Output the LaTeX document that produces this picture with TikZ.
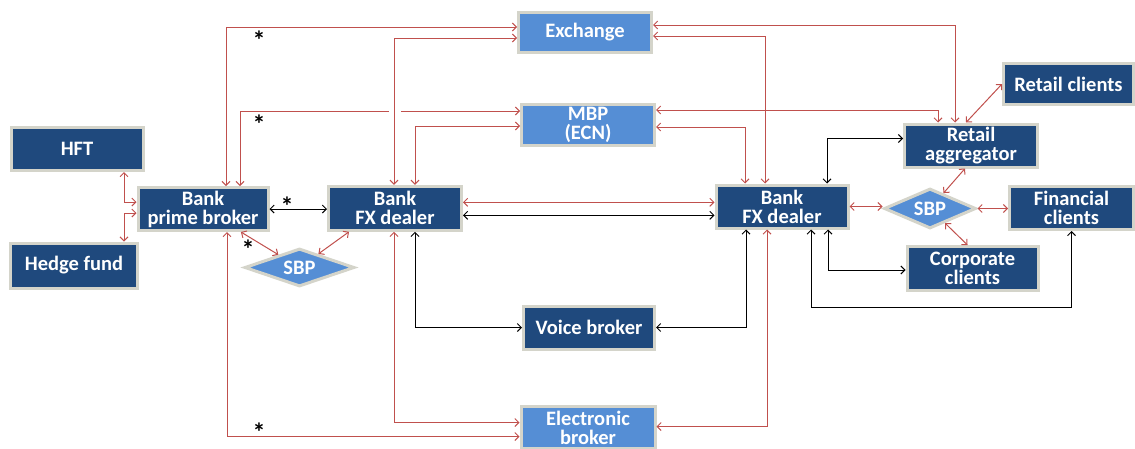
\documentclass[tikz,border=0pt]{standalone}
\usepackage{fontspec}
\setmainfont{Carlito}
\usetikzlibrary{shapes.geometric,arrows.meta}
\definecolor{boxblue}{RGB}{31,73,125}
\definecolor{mktblue}{RGB}{85,142,213}
\definecolor{linkred}{RGB}{192,80,77}
\definecolor{rimgray}{RGB}{212,212,202}
\tikzset{
  dealer/.style={draw=rimgray, line width=3pt, fill=boxblue, text=white,
    align=center, inner sep=0pt, font=\fontsize{20.5}{19}\selectfont\bfseries},
  venue/.style={dealer, fill=mktblue},
  sbp/.style={venue, diamond, aspect=2.5},
  rl/.style={draw=linkred, line width=1pt, <->},
  bl/.style={draw=black, line width=1pt, <->},
  star/.style={inner sep=0pt, font=\fontsize{26}{26}\selectfont\bfseries}
}

\begin{document}
\begin{tikzpicture}[x=1pt, y=-1pt, >={Straight Barb[length=4pt,width=8pt]}]

  \useasboundingbox (0,0) rectangle (1135,448);

  % participants
  \node[dealer, minimum width=132pt, minimum height=43pt] (hft) at (77,149) {HFT};
  \node[dealer, minimum width=127pt, minimum height=45pt] (hf) at (74,265.5) {Hedge fund};
  \node[dealer, minimum width=130pt, minimum height=43pt] (pb) at (203,209) {Bank\\prime broker};
  \node[dealer, minimum width=133pt, minimum height=44pt] (fxl) at (395,208.3) {Bank\\FX dealer};
  \node[dealer, minimum width=132pt, minimum height=43pt] (fxr) at (782,206.5) {Bank\\FX dealer};
  \node[dealer, minimum width=131pt, minimum height=43pt] (vb) at (589,327.5) {Voice broker};
  \node[dealer, minimum width=133pt, minimum height=43pt] (rag) at (971,145.5) {Retail\\aggregator};
  \node[dealer, minimum width=130pt, minimum height=41pt] (rcl) at (1068.5,84) {Retail clients};
  \node[dealer, minimum width=124pt, minimum height=43pt] (fcl) at (1071.5,208) {Financial\\clients};
  \node[dealer, minimum width=131pt, minimum height=44pt] (ccl) at (972.5,268.5) {Corporate\\clients};

  % venues
  \node[venue, minimum width=133pt, minimum height=40pt] (ex) at (585,32) {Exchange};
  \node[venue, minimum width=133pt, minimum height=41pt] (mbp) at (588,125) {MBP\\(ECN)};
  \node[venue, minimum width=134pt, minimum height=42pt] (eb) at (588,427.5) {Electronic\\broker};
  \node[sbp, minimum width=110pt, minimum height=38pt] (sbpl) at (299.5,267.5) {SBP};
  \node[sbp, minimum width=92pt, minimum height=40pt] (sbpr) at (930,208.5) {SBP};

  % red links, left side
  \draw[rl] ([xshift=47pt]hft.south) |- ([yshift=7pt]pb.west); %% HFT<->PB
  \draw[rl] ([xshift=50pt]hf.north) |- ([yshift=-4pt]pb.west); %% HF<->PB
  \draw[rl] ([xshift=23pt]pb.north) |- ([yshift=5pt]ex.west); %% PB<->EX
  \coordinate (gapL) at (389,111);
  \coordinate (gapR) at (401,111);
  \draw[draw=linkred, line width=1pt, <-] ([xshift=37pt]pb.north) |- (gapL); %% PB<-
  \draw[draw=linkred, line width=1pt, ->] (gapR) -- ([yshift=14pt]mbp.west); %% ->MBP
  \draw[rl] ([xshift=-1pt]fxl.north) |- ([yshift=-6pt]ex.west); %% FXL<->EX
  \draw[rl] ([xshift=20pt]fxl.north) |- ([yshift=-1pt]mbp.west); %% FXL<->MBP
  \draw[rl] (pb) -- (sbpl); %% PB<->SBP
  \draw[rl] ([xshift=-46pt]fxl.south) -- (sbpl); %% FXL<->SBP
  \draw[rl] ([xshift=24pt]pb.south) |- ([yshift=-9pt]eb.west); %% PB<->EB
  \draw[rl] ([xshift=-1pt]fxl.south) |- ([yshift=5pt]eb.west); %% FXL<->EB

  % dealer to dealer
  \draw[rl] ([yshift=6pt]fxl.east) -- ([yshift=6pt]fxl.east -| fxr.west); %% FXL<->FXR
  \draw[bl] ([yshift=-7pt]fxl.east) -- ([yshift=-7pt]fxl.east -| fxr.west);
  \draw[bl] (pb.east) -- (pb.east -| fxl.west); %% PB<->FXL

  % red links, right side
  \draw[rl] ([yshift=7pt]ex.east) -| ([xshift=-16pt]rag.north); %% EX<->RAG
  \draw[rl] ([yshift=-4pt]ex.east) -| ([xshift=-17pt]fxr.north); %% EX<->FXR
  \draw[rl] ([yshift=15pt]mbp.east) -| ([xshift=-33pt]rag.north); %% MBP<->RAG
  \draw[rl] ([yshift=-2pt]mbp.east) -| ([xshift=-37pt]fxr.north); %% MBP<->FXR
  \draw[rl] ([xshift=-15pt]fxr.south) |- ([yshift=1pt]eb.east); %% FXR<->EB
  \draw[rl] (fxr.east) -- (fxr.east -| sbpr.west); %% FXR<->SBP
  \draw[rl] (sbpr.east) -- (sbpr.east -| fcl.west); %% SBP<->FCL
  \draw[rl] ([xshift=-6pt]rag.south) -- (sbpr); %% RAG<->SBP
  \draw[rl] (sbpr) -- ([xshift=-5pt]ccl.north); %% SBP<->CCL
  \draw[rl] ([xshift=-5pt]rag.north) -- (rcl.west); %% RAG<->RCL

  % black links
  \draw[bl] ([xshift=20pt]fxl.south) |- (vb.west); %% FXL<->VB
  \draw[bl] ([xshift=-36pt]fxr.south) |- (vb.east); %% FXR<->VB
  \draw[bl] ([xshift=45pt]fxr.north) |- ([yshift=7pt]rag.west); %% FXR<->RAG
  \draw[bl] ([xshift=46pt]fxr.south) |- ([yshift=-1.5pt]ccl.west); %% FXR<->CCL
  \draw[bl] ([xshift=29pt]fxr.south) -- ++(0,78) -| (fcl.south); %% FXR<->FCL

  % stars
  \node[star] (st1) at (259,40) {*};
  \node[star] (st2) at (259,124) {*};
  \node[star] (st3) at (287,206) {*};
  \node[star] (st4) at (248,249) {*};
  \node[star] (st5) at (259,432) {*};
\end{tikzpicture}
\end{document}
